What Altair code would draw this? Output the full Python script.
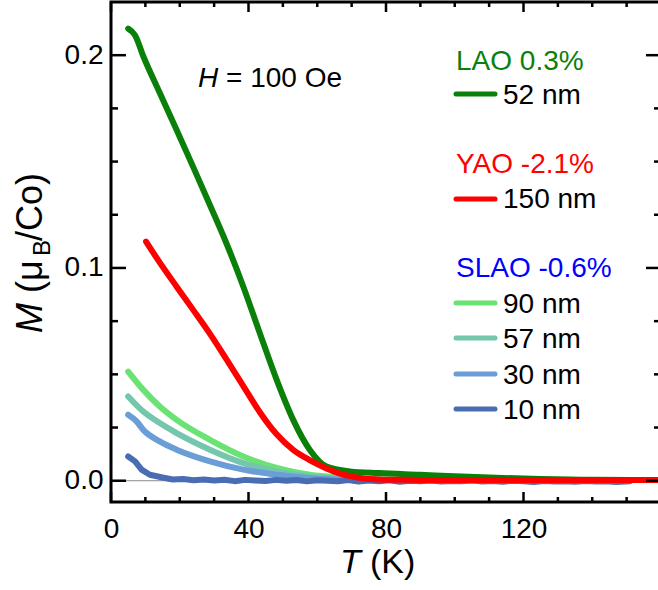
import altair as alt
import pandas as pd

# ---------------- data ----------------
T_LAO52 = [5.0, 7.0, 9.4, 14.2, 19.1, 23.9, 28.8, 33.6, 38.5, 43.3, 48.2, 53.0, 57.8, 62.7,
           69.5, 78, 90, 100, 112, 125, 140, 160]
M_LAO52 = [0.2125, 0.2094, 0.1995, 0.1822, 0.1648, 0.1475, 0.1295, 0.1115, 0.0912, 0.0693,
           0.0474, 0.0286, 0.0146, 0.0067, 0.0044, 0.0036, 0.0028, 0.0021, 0.0014, 0.0008,
           0.0004, 0.0003]

T_YAO150 = [10.2, 14.2, 19.1, 23.9, 28.8, 33.6, 38.5, 43.3, 48.2, 53.0, 57.8, 62.7, 68.5,
            73, 78, 85, 100, 120, 140, 160]
M_YAO150 = [0.1124, 0.1025, 0.0912, 0.0803, 0.0690, 0.0570, 0.0445, 0.0322, 0.0218, 0.0145,
            0.0097, 0.0058, 0.0025, 0.0012, 0.0006, 0.0004, 0.0003, 0.0003, 0.0003, 0.0003]

T_SLAO90 = [5.0, 9.4, 14.2, 19.1, 28.8, 38.5, 48.2, 57.8, 67.5, 80, 100, 150]
M_SLAO90 = [0.0513, 0.0427, 0.0349, 0.0286, 0.0192, 0.0114, 0.0060, 0.0028, 0.0014, 0.0006,
            0.0003, 0.0002]

T_SLAO57 = [5.0, 9.4, 14.2, 19.1, 28.8, 38.5, 48.2, 57.8, 67.5, 80, 100, 150]
M_SLAO57 = [0.0396, 0.0325, 0.0271, 0.0224, 0.0146, 0.0083, 0.0044, 0.0020, 0.0010, 0.0005,
            0.0002, 0.0001]

T_SLAO30 = [5.0, 7.5, 9.4, 14.2, 19.1, 28.8, 38.5, 48.2, 57.8, 67.5, 80, 100, 150]
M_SLAO30 = [0.0310, 0.0278, 0.0239, 0.0185, 0.0146, 0.0091, 0.0052, 0.0028, 0.0013, 0.0006,
            0.0003, 0.0001, 0.0000]

T_SLAO10 = [5, 7, 8.9, 11.3, 15, 18, 21, 24, 27, 30, 33, 36, 39, 42, 45, 48, 51, 54, 57, 60,
            63, 66, 69, 72, 75, 78, 81, 84, 87, 90, 93, 96, 99, 102, 105, 108, 111, 114, 117,
            120, 123, 126, 129, 132, 135, 138, 141, 144, 147, 151]
M_SLAO10 = [0.0114, 0.0091, 0.0052, 0.0028, 0.0015, 0.0006, 0.0008, 0.0002, 0.0006, 0.0001,
            0.0005, -0.0002, 0.0004, 0.0001, -0.0001, 0.0004, 0.0000, 0.0003, -0.0003, 0.0002,
            0.0000, -0.0002, 0.0003, -0.0004, 0.0001, -0.0002, 0.0002, -0.0005, 0.0000, -0.0003,
            0.0001, -0.0004, -0.0001, -0.0003, 0.0002, -0.0004, -0.0001, -0.0005, 0.0000, -0.0003,
            -0.0006, -0.0001, -0.0004, -0.0002, -0.0005, -0.0001, -0.0004, -0.0003, -0.0006, -0.0002]

X_MAJOR = [0, 40, 80, 120]
X_MINOR = [10, 20, 30, 50, 60, 70, 90, 100, 110, 130, 140, 150]
Y_MAJOR = [0.0, 0.1, 0.2]
Y_MINOR = [0.025, 0.05, 0.075, 0.125, 0.15, 0.175]

GROUP_LABELS = ["LAO 0.3%", "YAO -2.1%", "SLAO -0.6%"]
ENTRY_LABELS = ["52 nm", "150 nm", "90 nm", "57 nm", "30 nm", "10 nm"]

# ---------------- style / layout ----------------
FONT = "Liberation Sans, Arial, sans-serif"
W, H = 550, 500
C_LAO = "#0a800a"
C_YAO = "#ff0000"
C_90 = "#6ae274"
C_57 = "#74c6ad"
C_30 = "#6b9dd6"
C_10 = "#4a6cb3"

XS = alt.Scale(domain=[0, 160], nice=False, zero=False)
YS = alt.Scale(domain=[-0.01, 0.225], nice=False, zero=False)
XA = alt.Axis(values=X_MAJOR, ticks=False, domain=False, grid=False, title=None,
              labelFont=FONT, labelFontSize=28, labelColor="black", labelPadding=13,
              labelFlush=False, labelOverlap=False, format="d")
YA = alt.Axis(values=Y_MAJOR, ticks=False, domain=False, grid=False, title=None,
              labelFont=FONT, labelFontSize=28, labelColor="black", labelPadding=8,
              labelFlush=False, labelOverlap=False, format=".1f")


def xenc():
    return alt.X("T:Q", scale=XS, axis=XA)


def yenc():
    return alt.Y("M:Q", scale=YS, axis=YA)


def curve(T, M, color, interp="monotone"):
    df = pd.DataFrame({"T": T, "M": M})
    return alt.Chart(df).mark_line(color=color, strokeWidth=6, strokeCap="round",
                                   strokeJoin="round", interpolate=interp, clip=True).encode(
        x=xenc(), y=yenc())


layers = []

# zero line
layers.append(alt.Chart(pd.DataFrame({"M": [0.0]})).mark_rule(color="#8a8a8a", strokeWidth=1).encode(
    y=yenc(), x=alt.value(0), x2=alt.value(W)))

# data curves
layers.append(curve(T_SLAO90, M_SLAO90, C_90))
layers.append(curve(T_SLAO57, M_SLAO57, C_57))
layers.append(curve(T_SLAO30, M_SLAO30, C_30))
layers.append(curve(T_SLAO10, M_SLAO10, C_10, "linear"))
layers.append(curve(T_LAO52, M_LAO52, C_LAO))
layers.append(curve(T_YAO150, M_YAO150, C_YAO))


# ticks (inward, on all four sides)
def xticks(vals, length):
    df = pd.DataFrame({"T": vals})
    base = alt.Chart(df).mark_rule(color="black", strokeWidth=2.5)
    return [base.encode(x=xenc(), y=alt.value(H), y2=alt.value(H - length)),
            base.encode(x=xenc(), y=alt.value(0), y2=alt.value(length))]


def yticks(vals, length):
    df = pd.DataFrame({"M": vals})
    base = alt.Chart(df).mark_rule(color="black", strokeWidth=2.5)
    return [base.encode(y=yenc(), x=alt.value(0), x2=alt.value(length)),
            base.encode(y=yenc(), x=alt.value(W), x2=alt.value(W - length))]


layers += xticks(X_MAJOR + [160], 10)
layers += xticks(X_MINOR, 5)
layers += yticks(Y_MAJOR, 15)
layers += yticks(Y_MINOR, 7)


def text(s, x, y, size=28, color="black", style="normal", angle=0):
    df = pd.DataFrame({"s": [s]})
    return alt.Chart(df).mark_text(align="left", baseline="alphabetic", font=FONT,
                                   fontSize=size, color=color, fontStyle=style,
                                   angle=angle).encode(
        text="s:N", x=alt.value(x), y=alt.value(y))


def sample(color, y):
    df = pd.DataFrame({"s": [0]})
    return alt.Chart(df).mark_rule(color=color, strokeWidth=5, strokeCap="round").encode(
        x=alt.value(345), x2=alt.value(384), y=alt.value(y))


# annotation H = 100 Oe
layers.append(text("H", 87, 85, style="italic"))
layers.append(text("= 100 Oe", 115, 85))

# legend
layers.append(text(GROUP_LABELS[0], 345, 68, color=C_LAO))
layers.append(sample(C_LAO, 92))
layers.append(text(ENTRY_LABELS[0], 392, 102))

layers.append(text(GROUP_LABELS[1], 345, 171, color=C_YAO))
layers.append(sample(C_YAO, 197))
layers.append(text(ENTRY_LABELS[1], 392, 206))

layers.append(text(GROUP_LABELS[2], 345, 275, color="#0000ff"))
for lab, col, ly in zip(ENTRY_LABELS[2:], [C_90, C_57, C_30, C_10], [301, 336, 372, 407]):
    layers.append(sample(col, ly))
    layers.append(text(lab, 392, ly + 10))

# axis titles
layers.append(text("T", 229, 571, size=34, style="italic"))
layers.append(text("(K)", 259, 571, size=34))
layers.append(text("M", -69, 331, size=36, style="italic", angle=270))
layers.append(text("(\u03bc", -69, 291, size=36, angle=270))
layers.append(text("B", -61, 254, size=24, angle=270))
layers.append(text("/Co)", -69, 239, size=36, angle=270))

chart = alt.layer(*layers).properties(
    width=W, height=H,
    autosize=alt.AutoSizeParams(type="none"),
    padding={"left": 111, "top": 2, "right": -3, "bottom": 88},
).configure_view(stroke="black", strokeWidth=3)

chart.save("out.html", embed_options={"renderer": "svg", "actions": False})
